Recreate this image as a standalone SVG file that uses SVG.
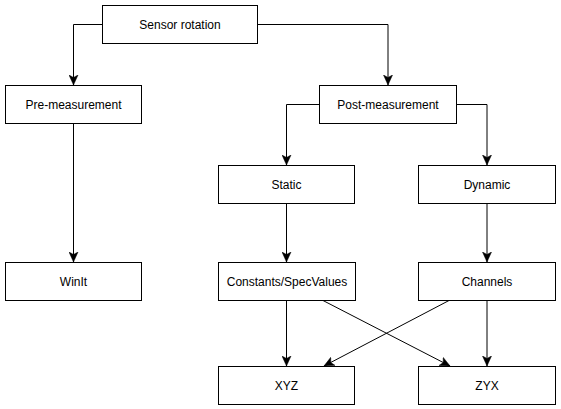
<svg xmlns="http://www.w3.org/2000/svg" width="561" height="409" viewBox="0 0 561 409">
<style>
.n rect{fill:#fff;stroke:#000;stroke-width:1}
.n text{font-family:"Liberation Sans",Arial,sans-serif;font-size:12px;fill:#000;text-anchor:middle;dominant-baseline:central}
.c path{fill:none;stroke:#000;stroke-width:1}
</style>
<defs>
<marker id="a" markerUnits="userSpaceOnUse" markerWidth="12" markerHeight="10" viewBox="0 -5 11 10" refX="10" refY="0" orient="auto">
<path d="M0,-4.5 L10,0 L0,4.5 L2.5,0 Z" fill="#000" stroke="#000" stroke-width="0.5"/>
</marker>
</defs>
<rect width="561" height="409" fill="#fff"/>
<g id="connectors" class="c">
<path d="M102.5,24.5 H73.5 V85" marker-end="url(#a)"/>
<path d="M257.5,24.5 H388 V85" marker-end="url(#a)"/>
<path d="M319.5,104.5 H286.5 V165" marker-end="url(#a)"/>
<path d="M456.5,104.5 H487 V165" marker-end="url(#a)"/>
<path d="M73.5,123.5 V262" marker-end="url(#a)"/>
<path d="M286.5,203.5 V262" marker-end="url(#a)"/>
<path d="M487,203.5 V262" marker-end="url(#a)"/>
<path d="M286.5,300.5 V366" marker-end="url(#a)"/>
<path d="M487,300.5 V366" marker-end="url(#a)"/>
<path d="M323,300.5 L450,366" marker-end="url(#a)"/>
<path d="M449,300.5 L324,366" marker-end="url(#a)"/>
</g>
<g id="sensor-rotation" class="n"><rect x="102.5" y="5.5" width="155" height="38"/><text x="180" y="24.5">Sensor rotation</text></g>
<g id="pre-measurement" class="n"><rect x="5.5" y="85.5" width="136" height="38"/><text x="73.5" y="104.5">Pre-measurement</text></g>
<g id="post-measurement" class="n"><rect x="319.5" y="85.5" width="137" height="38"/><text x="388" y="104.5">Post-measurement</text></g>
<g id="static" class="n"><rect x="218.5" y="165.5" width="136" height="38"/><text x="286.5" y="184.5">Static</text></g>
<g id="dynamic" class="n"><rect x="418.5" y="165.5" width="137" height="38"/><text x="487" y="184.5">Dynamic</text></g>
<g id="winit" class="n"><rect x="5.5" y="262.5" width="136" height="38"/><text x="73.5" y="281.5">WinIt</text></g>
<g id="constants" class="n"><rect x="218.5" y="262.5" width="137" height="38"/><text x="287" y="281.5">Constants/SpecValues</text></g>
<g id="channels" class="n"><rect x="418.5" y="262.5" width="137" height="38"/><text x="487" y="281.5">Channels</text></g>
<g id="xyz" class="n"><rect x="218.5" y="366.5" width="136" height="38"/><text x="286.5" y="385.5">XYZ</text></g>
<g id="zyx" class="n"><rect x="418.5" y="366.5" width="137" height="38"/><text x="487" y="385.5">ZYX</text></g>
</svg>
